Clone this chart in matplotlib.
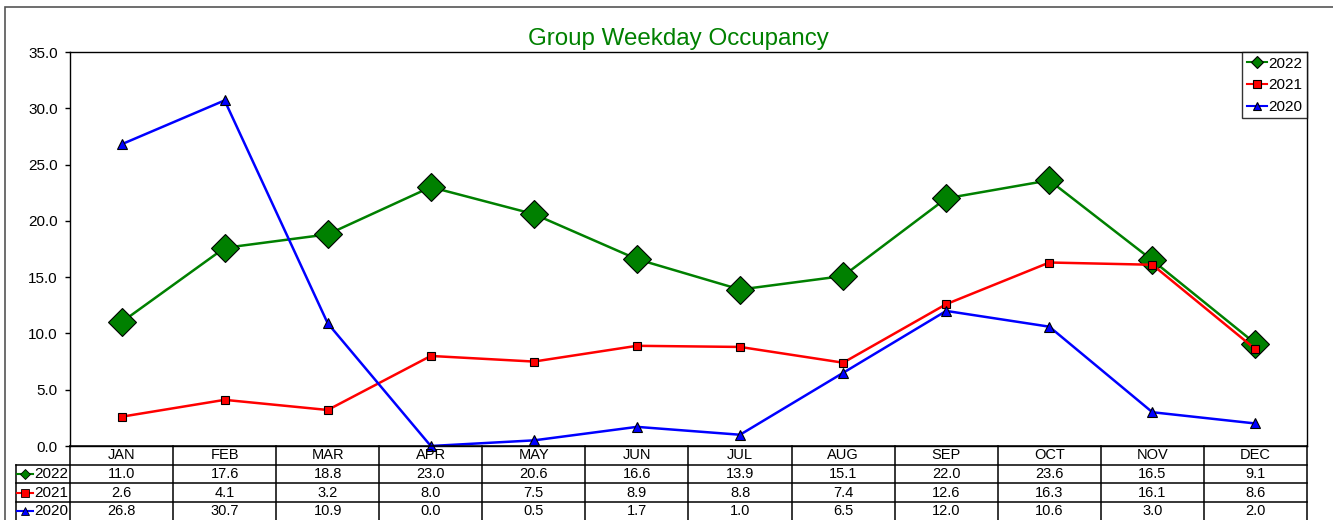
import matplotlib.pyplot as plt
from matplotlib.patches import Rectangle

plt.rcParams['font.family'] = ['Liberation Sans', 'DejaVu Sans']

months = ["JAN", "FEB", "MAR", "APR", "MAY", "JUN",
          "JUL", "AUG", "SEP", "OCT", "NOV", "DEC"]
years = ["2022", "2021", "2020"]
occ_2022 = [11.0, 17.6, 18.8, 23.0, 20.6, 16.6, 13.9, 15.1, 22.0, 23.6, 16.5, 9.1]
occ_2021 = [2.6, 4.1, 3.2, 8.0, 7.5, 8.9, 8.8, 7.4, 12.6, 16.3, 16.1, 8.6]
occ_2020 = [26.8, 30.7, 10.9, 0.0, 0.5, 1.7, 1.0, 6.5, 12.0, 10.6, 3.0, 2.0]

W, H = 1333, 520
fig = plt.figure(figsize=(W / 100, H / 100), dpi=100)

# outer chart frame
fig.patches.append(Rectangle((5 / W, -0.1), 2, 1 - 7 / H + 0.1,
                             transform=fig.transFigure, fill=False,
                             edgecolor="#555555", linewidth=1.2))

left, right, top, bottom = 70, 1307, 52, 446
ax = fig.add_axes([left / W, 1 - bottom / H, (right - left) / W, (bottom - top) / H])

styles = [
    dict(color="#008000", marker="D", markersize=14.5, mfc="#008000"),
    dict(color="#FF0000", marker="s", markersize=5.5, mfc="#FF0000"),
    dict(color="#0000FF", marker="^", markersize=6.5, mfc="#0000FF"),
]
series = [occ_2022, occ_2021, occ_2020]
x = list(range(len(months)))
for yr, vals, st in zip(years, series, styles):
    ax.plot(x, vals, label=yr, linewidth=1.8, mec="black", mew=0.8,
            clip_on=False, zorder=3, **st)

ax.set_xlim(-0.5, 11.5)
ax.set_ylim(0, 35)
ax.set_yticks([0, 5, 10, 15, 20, 25, 30, 35])
ax.set_yticklabels([f"{v:.1f}" for v in ax.get_yticks()])
ax.set_xticks([])
ax.tick_params(axis="y", direction="out", length=3.8, width=1, labelsize=11, pad=5)
for s in ax.spines.values():
    s.set_linewidth(1)
    s.set_color("black")

ax.set_title("Group Weekday Occupancy", color="#008000", fontsize=17.4, pad=5,
             x=(678 - left) / (right - left))

leg = ax.legend(loc="upper right", borderaxespad=0, fontsize=11,
                frameon=True, fancybox=False, edgecolor="black",
                handlelength=1.3, handletextpad=0.1, borderpad=0.3,
                labelspacing=0.5, markerscale=1)
leg.get_frame().set_linewidth(1)
for h in leg.legend_handles:
    h.set_markersize(6)
    h.set_linewidth(1.5)

# data table under the plot
colw = (right - left) / 12
rowh = 18.7
tab = fig.add_axes([16 / W, 1 - (bottom + 4 * rowh) / H,
                    (right - 16) / W, 4 * rowh / H])
lab_left = -0.5 - (left - 16) / colw
tab.set_xlim(lab_left, 11.5)
tab.set_ylim(4, 0)
tab.axis("off")

lw = 1.1
# horizontal rules
tab.plot([-0.5, 11.5], [0, 0], color="black", lw=lw, clip_on=False)
for r in (1, 2, 3, 4):
    tab.plot([lab_left, 11.5], [r, r], color="black", lw=lw, clip_on=False)
# vertical rules
tab.plot([lab_left, lab_left], [1, 4], color="black", lw=lw, clip_on=False)
for c in range(13):
    tab.plot([c - 0.5, c - 0.5], [0, 4], color="black", lw=lw, clip_on=False)

for i, m in enumerate(months):
    tab.text(i, 0.5, m, ha="center", va="center", fontsize=10.5)
for r, (yr, vals, st) in enumerate(zip(years, series, styles), start=1):
    for i, v in enumerate(vals):
        tab.text(i, r + 0.5, f"{v:.1f}", ha="center", va="center", fontsize=10.5)
    kx0 = lab_left + 1.5 / colw
    kx1 = lab_left + 17 / colw
    tab.plot([kx0, kx1], [r + 0.5, r + 0.5], color=st["color"], lw=1.5, clip_on=False)
    tab.plot([(kx0 + kx1) / 2], [r + 0.5], marker=st["marker"], color=st["color"],
             mec="black", mew=0.6, markersize=5.5 if st["marker"] != "^" else 6,
             clip_on=False)
    tab.text(-0.5 - 2 / colw, r + 0.5, yr, ha="right", va="center", fontsize=11)

fig.savefig("out.png", dpi=100)
